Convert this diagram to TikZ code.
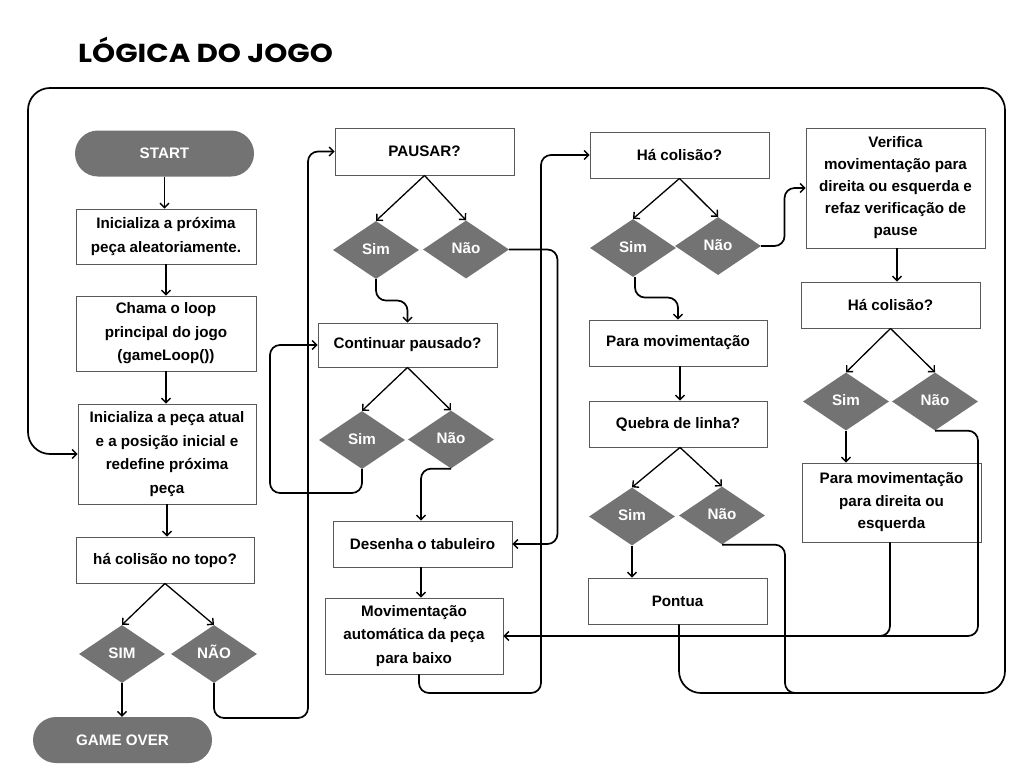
\documentclass[tikz,border=0pt]{standalone}
\usepackage{fontspec}
\setmainfont{Liberation Sans}
\newfontfamily\titlefont{Poppins}
\usetikzlibrary{shapes.geometric,arrows.meta,calc}
\definecolor{dgray}{RGB}{115,115,115}
\tikzset{
  bodyfont/.style={font=\bfseries\fontsize{15.2}{23.5}\selectfont},
  procbox/.style={draw=black!65, line width=0.9pt, fill=white, align=center, inner sep=2pt, bodyfont},
  pill/.style={fill=dgray, rounded corners=23pt, text=white, minimum height=46pt, minimum width=179pt, bodyfont},
  dec/.style={diamond, fill=dgray, text=white, minimum width=86pt, minimum height=58pt, inner sep=0pt, text height=11pt, text depth=3pt, bodyfont},
  tip/.style={-{Straight Barb[length=4.5pt,width=9pt,line width=1.4pt]}},
  conn/.style={line width=1.7pt, rounded corners=10pt, tip},
  link/.style={line width=1.7pt, rounded corners=10pt},
  diag/.style={line width=1.3pt, tip},
}
\begin{document}
\begin{tikzpicture}[x=1pt,y=-1pt]
\useasboundingbox (0,0) rectangle (1024,768);
\fill[white] (0,0) rectangle (1024,768);

\node[anchor=west, inner sep=0pt, font=\titlefont\bfseries\fontsize{26}{30}\selectfont] (title) at (78,50) {\scalebox{1.13}[1]{LÓGICA DO JOGO}};

% left column
\node[pill] (start) at (164.5,153.5) {START};
\node[procbox, minimum width=180pt, minimum height=55pt] (n1) at (166,236.5) {Inicializa a próxima\\peça aleatoriamente.};
\node[procbox, minimum width=180pt, minimum height=75pt] (n2) at (166,333.5) {Chama o loop\\principal do jogo\\(gameLoop())};
\node[procbox, minimum width=178pt, minimum height=100pt] (n3) at (167,454) {Inicializa a peça atual\\e a posição inicial e\\redefine próxima\\peça};
\node[procbox, minimum width=178pt, minimum height=46pt] (n4) at (165,560) {há colisão no topo?};
\node[dec] (d1) at (122,654) {SIM};
\node[dec] (d2) at (214,654) {NÃO};
\node[pill] (go) at (122.5,740) {GAME OVER};

% middle column
\node[procbox, minimum width=179pt, minimum height=47pt] (p1) at (424.5,151.5) {PAUSAR?};
\node[dec] (d3) at (376,250) {Sim};
\node[dec] (d4) at (466,249.5) {Não};
\node[procbox, minimum width=179pt, minimum height=44pt] (p2) at (407.5,345) {Continuar pausado?};
\node[dec] (d5) at (362,440) {Sim};
\node[dec] (d6) at (451,439.5) {Não};
\node[procbox, minimum width=179pt, minimum height=46pt] (p3) at (422.5,544) {Desenha o tabuleiro};
\node[procbox, minimum width=178pt, minimum height=76pt] (p4) at (414,636) {Movimentação\\automática da peça\\para baixo};

% right-middle column
\node[procbox, minimum width=179pt, minimum height=46pt] (q1) at (679.5,155) {Há colisão?};
\node[dec] (d7) at (633,248) {Sim};
\node[dec] (d8) at (718,246) {Não};
\node[procbox, minimum width=178pt, minimum height=46pt] (q2) at (678,343) {Para movimentação};
\node[procbox, minimum width=178pt, minimum height=46pt] (q3) at (678,424) {Quebra de linha?};
\node[dec] (d9) at (632,516.5) {Sim};
\node[dec] (d10) at (722,515.5) {Não};
\node[procbox, minimum width=179pt, minimum height=46pt] (q4) at (677.5,601) {Pontua};

% right column
\node[procbox, minimum width=179pt, minimum height=120pt, font=\bfseries\fontsize{15.2}{22}\selectfont] (r1) at (895.5,188) {Verifica\\movimentação para\\direita ou esquerda e\\refaz verificação de\\pause};
\node[procbox, minimum width=179pt, minimum height=46pt] (r2) at (890.5,305) {Há colisão?};
\node[dec] (d11) at (846,401.5) {Sim};
\node[dec] (d12) at (935,401.5) {Não};
\node[procbox, minimum width=179pt, minimum height=79pt, font=\bfseries\fontsize{15.2}{22.5}\selectfont] (r3) at (891.5,502.5) {Para movimentação\\para direita ou\\esquerda};

% left column connectors
\draw[conn] (start.south) -- (start.south |- n1.north);
\draw[conn] (n1.south) -- (n1.south |- n2.north);
\draw[conn] (n2.south) -- (n2.south |- n3.north);
\draw[conn] (n3.south) -- (n3.south |- n4.north);
\draw[diag] (n4.south) -- (d1.north);
\draw[diag] (n4.south) -- (d2.north);
\draw[conn] (d1.south) -- (d1.south |- go.north);
\draw[conn] (d2.south) |- (308,718) |- (p1.west);

% middle column connectors
\draw[diag] (p1.south) -- (d3.north);
\draw[diag] (p1.south) -- (d4.north);
\draw[conn] (d3.south) |- ([yshift=22pt]p2.north) -- (p2.north);
\draw[conn] (d4.east) -| ([xshift=45pt]p3.east) -- (p3.east);
\draw[diag] (p2.south) -- (d5.north);
\draw[diag] (p2.south) -- (d6.north);
\draw[conn] (d5.south) |- (270,493) |- (p2.west);
\draw[conn] (d6.south) -| ([xshift=-1.5pt]p3.north);
\draw[conn] ([xshift=-1.5pt]p3.south) -- ([xshift=-1.5pt]p3.south |- p4.north);
\draw[conn] ([xshift=5pt]p4.south) |- (541,693) |- (q1.west);

% right-middle connectors
\draw[diag] (q1.south) -- (d7.north);
\draw[diag] (q1.south) -- (d8.north);
\draw[conn] ([xshift=2pt]d7.south) |- ([yshift=22pt]q2.north) -- (q2.north);
\draw[conn] (d8.east) -| ([xshift=-21pt]r1.west) -- (r1.west);
\draw[conn] ([xshift=2pt]q2.south) -- ([xshift=2pt]q2.south |- q3.north);
\draw[diag] ([xshift=2pt]q3.south) -- (d9.north);
\draw[diag] ([xshift=2pt]q3.south) -- (d10.north);
\draw[conn] (d9.south) -- (d9.south |- q4.north);

% right column connectors
\draw[conn] ([xshift=1.5pt]r1.south) -- ([xshift=1.5pt]r1.south |- r2.north);
\draw[diag] (r2.south) -- (d11.north);
\draw[diag] (r2.south) -- (d12.north);
\draw[conn] (d11.south) -- (d11.south |- r3.north);
\draw[conn] ([xshift=-1.5pt]r3.south) |- (p4.east);
\draw[link] (d12.south) -| (978,636) -- (880,636);

% big loop
\draw[link] (d10.south) -| (785,693) -- (820,693);
\draw[conn, rounded corners=22pt] ([xshift=1.5pt]q4.south) |- (1005,693) -- (1005,88) -- (28,88) |- (n3.west);
\end{tikzpicture}
\end{document}
